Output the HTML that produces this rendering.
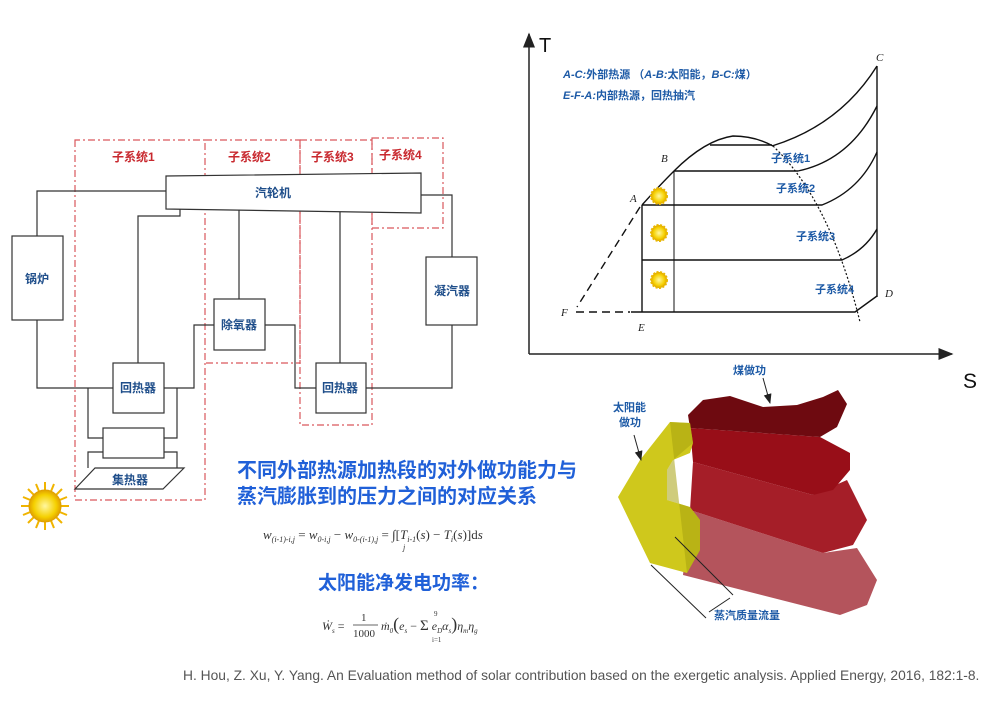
<!DOCTYPE html>
<html><head><meta charset="utf-8"><style>
html,body{margin:0;padding:0;background:#fff;}
svg{display:block;}
.cn{font-family:"Liberation Sans","Noto Sans CJK SC",sans-serif;}
</style></head><body>
<svg width="1007" height="701" viewBox="0 0 1007 701" xmlns="http://www.w3.org/2000/svg" class="cn">
<defs>
<marker id="ar" markerWidth="10" markerHeight="10" refX="9" refY="5" orient="auto"><path d="M0,1 L10,5 L0,9 Z" fill="#222"/></marker>
<radialGradient id="sun" cx="50%" cy="50%" r="50%"><stop offset="0" stop-color="#fff7a0"/><stop offset="0.7" stop-color="#f5d000"/><stop offset="1" stop-color="#e0a000"/></radialGradient>
</defs>
<!-- LEFT SYSTEM -->
<g fill="none" stroke="#d9575c" stroke-width="1.2" stroke-dasharray="7,3,2,3">
<path d="M75,140 V500 H205 V140 Z"/>
<path d="M205,140 H300 V363 H205"/>
<path d="M300,140 H372 V425 H300 Z"/>
<path d="M372,138 H443 V228 H372 Z"/>
</g>
<g font-size="12" font-weight="bold" fill="#c8282e">
<text x="112" y="161">子系统1</text>
<text x="228" y="161">子系统2</text>
<text x="311" y="161">子系统3</text>
<text x="379" y="159">子系统4</text>
</g>
<g fill="none" stroke="#333" stroke-width="1.2">
<path d="M37,236 V191 H166"/>
<path d="M37,320 V388 H113"/>
<path d="M138,363 V216 H180 V209"/>
<path d="M164,388 H194 V325 H214"/>
<path d="M239,299 V210"/>
<path d="M265,325 H295 V388 H316"/>
<path d="M340,363 V212"/>
<path d="M366,388 H452 V325"/>
<path d="M452,257 V195 H421"/>
<path d="M88,388 V438 H103 M164,438 H177 V388"/>
<path d="M88,468 V452 H103 M164,452 H177 V468"/>
</g>
<g fill="#fff" stroke="#333" stroke-width="1.2">
<polygon points="166,176 421,173 421,213 166,209"/>
<rect x="12" y="236" width="51" height="84"/>
<rect x="113" y="363" width="51" height="50"/>
<rect x="214" y="299" width="51" height="51"/>
<rect x="316" y="363" width="50" height="50"/>
<rect x="426" y="257" width="51" height="68"/>
<rect x="103" y="428" width="61" height="30"/>
<polygon points="75,489 95,468 184,468 163,489"/>
</g>
<g font-size="12" font-weight="bold" fill="#1f4e8a" text-anchor="middle">
<text x="273" y="197">汽轮机</text>
<text x="37" y="283">锅炉</text>
<text x="138" y="392">回热器</text>
<text x="239" y="329">除氧器</text>
<text x="340" y="392">回热器</text>
<text x="452" y="295">凝汽器</text>
<text x="130" y="484">集热器</text>
</g>
<!-- sun -->
<g transform="translate(45,506)">
<g stroke="#f0b400" stroke-width="2">
<line x1="0" y1="-24" x2="0" y2="24"/><line x1="-24" y1="0" x2="24" y2="0"/>
<line x1="-17" y1="-17" x2="17" y2="17"/><line x1="-17" y1="17" x2="17" y2="-17"/>
<line x1="-9" y1="-22" x2="9" y2="22"/><line x1="-22" y1="-9" x2="22" y2="9"/>
<line x1="-9" y1="22" x2="9" y2="-22"/><line x1="-22" y1="9" x2="22" y2="-9"/>
</g>
<circle r="16" fill="url(#sun)" stroke="#e0a000"/>
</g>
<!-- text middle -->
<g font-size="20" font-weight="bold" fill="#2060d8">
<text x="237" y="477">不同外部热源加热段的对外做功能力与</text>
<text x="237" y="503">蒸汽膨胀到的压力之间的对应关系</text>
<text x="318" y="589" font-size="19">太阳能净发电功率：</text>
</g>
<text x="263" y="539" font-family="Liberation Serif,serif" font-size="13" fill="#333" font-style="italic">w<tspan font-size="8" dy="3">(i-1)-i,j</tspan><tspan dy="-3" font-style="normal"> = </tspan>w<tspan font-size="8" dy="3">0-i,j</tspan><tspan dy="-3" font-style="normal"> − </tspan>w<tspan font-size="8" dy="3">0-(i-1),j</tspan><tspan dy="-3" font-style="normal"> = ∫[</tspan>T<tspan font-size="8" dy="3">i-1</tspan><tspan dy="-3" font-style="normal">(</tspan>s<tspan font-style="normal">) − </tspan>T<tspan font-size="8" dy="3">i</tspan><tspan dy="-3" font-style="normal">(</tspan>s<tspan font-style="normal">)]d</tspan>s</text>
<text x="403" y="550" font-family="Liberation Serif,serif" font-size="8" fill="#333" font-style="italic">j</text>
<g font-family="Liberation Serif,serif" fill="#333" font-size="12">
<text x="322" y="630" font-style="italic">Ẇ<tspan font-size="7" dy="3">s</tspan><tspan dy="-3" font-style="normal"> =</tspan></text>
<text x="361" y="621" font-size="11">1</text>
<line x1="353" y1="625" x2="378" y2="625" stroke="#333" stroke-width="0.8"/>
<text x="353" y="637" font-size="11">1000</text>
<text x="381" y="630" font-style="italic">ṁ<tspan font-size="7" dy="3">0</tspan><tspan dy="-3" font-size="18" font-style="normal">(</tspan>e<tspan font-size="7" dy="3">s</tspan><tspan dy="-3" font-style="normal"> − </tspan><tspan font-size="15" font-style="normal">Σ</tspan> e<tspan font-size="7" dy="3">D</tspan><tspan dy="-3">α</tspan><tspan font-size="7" dy="3">s</tspan><tspan dy="-3" font-size="18" font-style="normal">)</tspan>η<tspan font-size="7" dy="3">m</tspan><tspan dy="-3">η</tspan><tspan font-size="7" dy="3">g</tspan></text>
<text x="434" y="616" font-size="7">9</text><text x="432" y="642" font-size="7">i=1</text>
</g>
<text x="183" y="680" font-size="13.8" fill="#555">H. Hou, Z. Xu, Y. Yang. An Evaluation method of solar contribution based on the exergetic analysis. Applied Energy, 2016, 182:1-8.</text>
<!-- T-S DIAGRAM -->
<g stroke="#222" stroke-width="1.5" fill="none">
<line x1="529" y1="354" x2="529" y2="34" marker-end="url(#ar)"/>
<line x1="529" y1="354" x2="952" y2="354" marker-end="url(#ar)"/>
</g>
<text x="539" y="52" font-size="20" fill="#111">T</text>
<text x="963" y="388" font-size="21" fill="#111">S</text>
<g font-size="11" font-weight="bold" fill="#1d5aa6">
<text x="563" y="78"><tspan font-style="italic">A-C:</tspan>外部热源 （<tspan font-style="italic">A-B:</tspan>太阳能，<tspan font-style="italic">B-C:</tspan>煤）</text>
<text x="563" y="99"><tspan font-style="italic">E-F-A:</tspan>内部热源，回热抽汽</text>
</g>
<g stroke="#111" stroke-width="1.4" fill="none">
<path d="M642,205 Q660,185 674,171 Q705,140 733,136 Q755,136 773,146"/>
<line x1="710" y1="145" x2="772" y2="145"/>
<path d="M772,146 Q840,125 877,66"/>
<line x1="877" y1="66" x2="877" y2="297"/>
<path d="M674,171 H798 Q850,160 877,106"/>
<path d="M642,205 H822 Q860,190 877,152"/>
<path d="M642,260 H842 Q865,250 877,229"/>
<path d="M631,312 H855 L877,296"/>
<line x1="642" y1="205" x2="642" y2="312"/>
<line x1="674" y1="171" x2="674" y2="312" stroke-width="1"/>
<path d="M640,207 L577,307" stroke-dasharray="8,5"/>
<path d="M576,312 H630" stroke-dasharray="8,5"/>
<path d="M773,146 Q830,200 860,322" stroke-dasharray="2,2" stroke-width="1.2"/>
</g>
<g font-size="11" font-style="italic" fill="#222" font-family="Liberation Serif,serif">
<text x="876" y="61">C</text><text x="661" y="162">B</text><text x="630" y="202">A</text>
<text x="885" y="297">D</text><text x="638" y="331">E</text><text x="561" y="316">F</text>
</g>
<g font-size="11" font-weight="bold" fill="#1d5aa6">
<text x="771" y="162">子系统1</text><text x="776" y="192">子系统2</text>
<text x="796" y="240">子系统3</text><text x="815" y="293">子系统4</text>
</g>
<g fill="url(#sun)" stroke="#e8b800" stroke-width="2" stroke-dasharray="2,1.5">
<circle cx="659" cy="196" r="8"/><circle cx="659" cy="233" r="8"/><circle cx="659" cy="280" r="8"/>
</g>
<!-- 3D SHAPE -->
<polygon points="690,510 823,553 857,548 877,580 867,605 840,615 683,575" fill="#b4545c"/>
<polygon points="693,462 813,495 847,480 867,520 853,545 823,553 690,510" fill="#a51e28"/>
<polygon points="690,428 820,437 850,453 850,470 833,490 813,495 693,462" fill="#980e18"/>
<polygon points="688,415 703,400 730,396 763,407 797,405 823,397 838,390 847,404 837,427 820,437 690,428" fill="#6e0a10"/>
<polygon points="618,497 640,460 670,422 690,423 693,443 690,453 673,460 667,470 667,500 690,507 700,520 700,550 687,573 650,563" fill="#cfc81c"/>
<polygon points="670,422 690,423 693,443 673,460 667,470 667,500 690,507 700,520 700,550 687,573" fill="#a8a210" opacity="0.55"/>
<g stroke="#222" stroke-width="1" fill="none">
<line x1="763" y1="378" x2="770" y2="403" marker-end="url(#ar)"/>
<line x1="634" y1="435" x2="641" y2="460" marker-end="url(#ar)"/>
<line x1="651" y1="565" x2="706" y2="618"/>
<line x1="675" y1="537" x2="733" y2="595"/>
<line x1="709" y1="612" x2="730" y2="598"/>
</g>
<g font-size="11" font-weight="bold" fill="#1d5aa6">
<text x="733" y="374">煤做功</text>
<text x="613" y="411">太阳能</text><text x="619" y="426">做功</text>
<text x="714" y="619">蒸汽质量流量</text>
</g>
</svg>
</body></html>
